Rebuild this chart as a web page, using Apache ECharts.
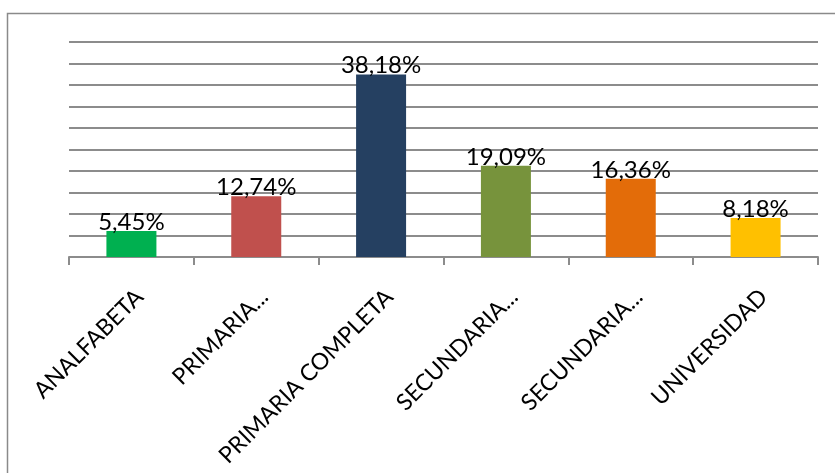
<!DOCTYPE html>
<html>
<head>
<meta charset="utf-8">
<script src="https://cdn.jsdelivr.net/npm/echarts@6/dist/echarts.min.js"></script>
<style>html,body{margin:0;padding:0;background:#fff}#c{width:835px;height:473px}</style>
</head>
<body>
<div id="c"></div>
<script>
const categories = ['ANALFABETA', 'PRIMARIA...', 'PRIMARIA COMPLETA', 'SECUNDARIA...', 'SECUNDARIA...', 'UNIVERSIDAD'];
const values = [5.45, 12.74, 38.18, 19.09, 16.36, 8.18];
const labels = ['5,45%', '12,74%', '38,18%', '19,09%', '16,36%', '8,18%'];
const colors = ['#00B050', '#C0504D', '#254061', '#77933C', '#E36C09', '#FFC000'];

const chart = echarts.init(document.getElementById('c'));
chart.setOption({
  animation: false,
  backgroundColor: '#fff',
  graphic: [{
    type: 'rect', shape: {x: 7.5, y: 13.5, width: 900, height: 500},
    style: {fill: 'none', stroke: '#8a8a8a', lineWidth: 1.5}, silent: true, z: -1
  }],
  grid: {left: 69, right: 17, top: 42, bottom: 216, containLabel: false},
  xAxis: {
    type: 'category', data: categories, boundaryGap: true,
    axisLine: {lineStyle: {color: '#8c8c8c', width: 2}},
    axisTick: {show: true, length: 8, lineStyle: {color: '#8c8c8c', width: 2}},
    axisLabel: {
      rotate: 45, interval: 0, margin: 28, color: '#000',
      fontFamily: 'Lato', fontSize: 23, align: 'right', verticalAlign: 'top'
    }
  },
  yAxis: {
    type: 'value', min: 0, max: 45, interval: 4.5,
    axisLine: {show: false}, axisTick: {show: false}, axisLabel: {show: false},
    splitLine: {lineStyle: {color: '#8c8c8c', width: 2}}
  },
  series: [{
    type: 'bar', barWidth: 50,
    data: values.map((v, i) => ({value: v, itemStyle: {color: colors[i]}})),
    label: {
      show: true, position: 'top', distance: -3, color: '#000',
      fontFamily: 'Lato', fontSize: 24,
      formatter: p => labels[p.dataIndex]
    }
  }]
});
</script>
</body>
</html>
